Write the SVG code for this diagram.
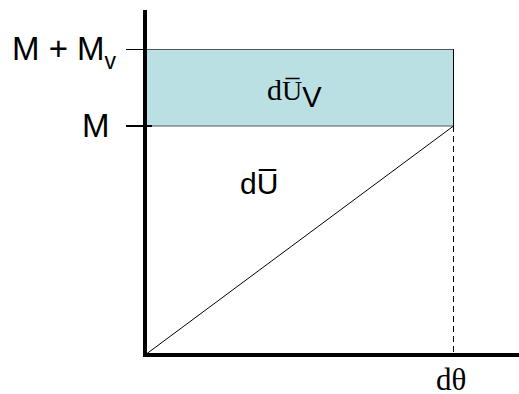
<svg xmlns="http://www.w3.org/2000/svg" width="519" height="394" viewBox="0 0 519 394">
<style>
.sans{font-family:"Liberation Sans",Arial,sans-serif;fill:#000}
.serif{font-family:"Liberation Serif","Times New Roman",serif;fill:#000}
.axis{stroke:#000;stroke-width:4;fill:none}
.thin{stroke:#000;stroke-width:1;fill:none}
</style>
<rect width="519" height="394" fill="#fff"/>
<g id="band">
<rect x="145" y="49.5" width="308.5" height="76.5" fill="#BBE0E3" stroke="#555" stroke-width="1"/>
<line x1="453.5" y1="49" x2="453.5" y2="126" stroke="#000" stroke-width="1"/>
<text class="serif" x="267" y="100" font-size="30">d<tspan font-size="28">U&#x0305;</tspan><tspan font-size="29" dy="7" style="font-family:'Liberation Sans',Arial,sans-serif">V</tspan></text>
</g>
<g id="connectors">
<line class="thin" x1="145" y1="355" x2="453.5" y2="126"/>
<line x1="453.5" y1="126" x2="453.5" y2="355" stroke="#000" stroke-width="1" stroke-dasharray="6,4"/>
<line class="thin" x1="126" y1="49.5" x2="145" y2="49.5"/>
<line x1="126" y1="126" x2="152" y2="126" stroke="#000" stroke-width="2"/>
</g>
<g id="axes">
<line class="axis" x1="145" y1="10" x2="145" y2="357"/>
<line class="axis" x1="143" y1="355" x2="519" y2="355"/>
</g>
<g id="labels">
<text class="sans" x="12" y="60" font-size="33">M + M<tspan font-size="23" dy="9">v</tspan></text>
<text class="sans" x="82" y="137" font-size="33">M</text>
<text class="sans" x="240" y="194" font-size="30">dU&#x0305;</text>
<text class="serif" x="436" y="390" font-size="31">dθ</text>
</g>
</svg>
